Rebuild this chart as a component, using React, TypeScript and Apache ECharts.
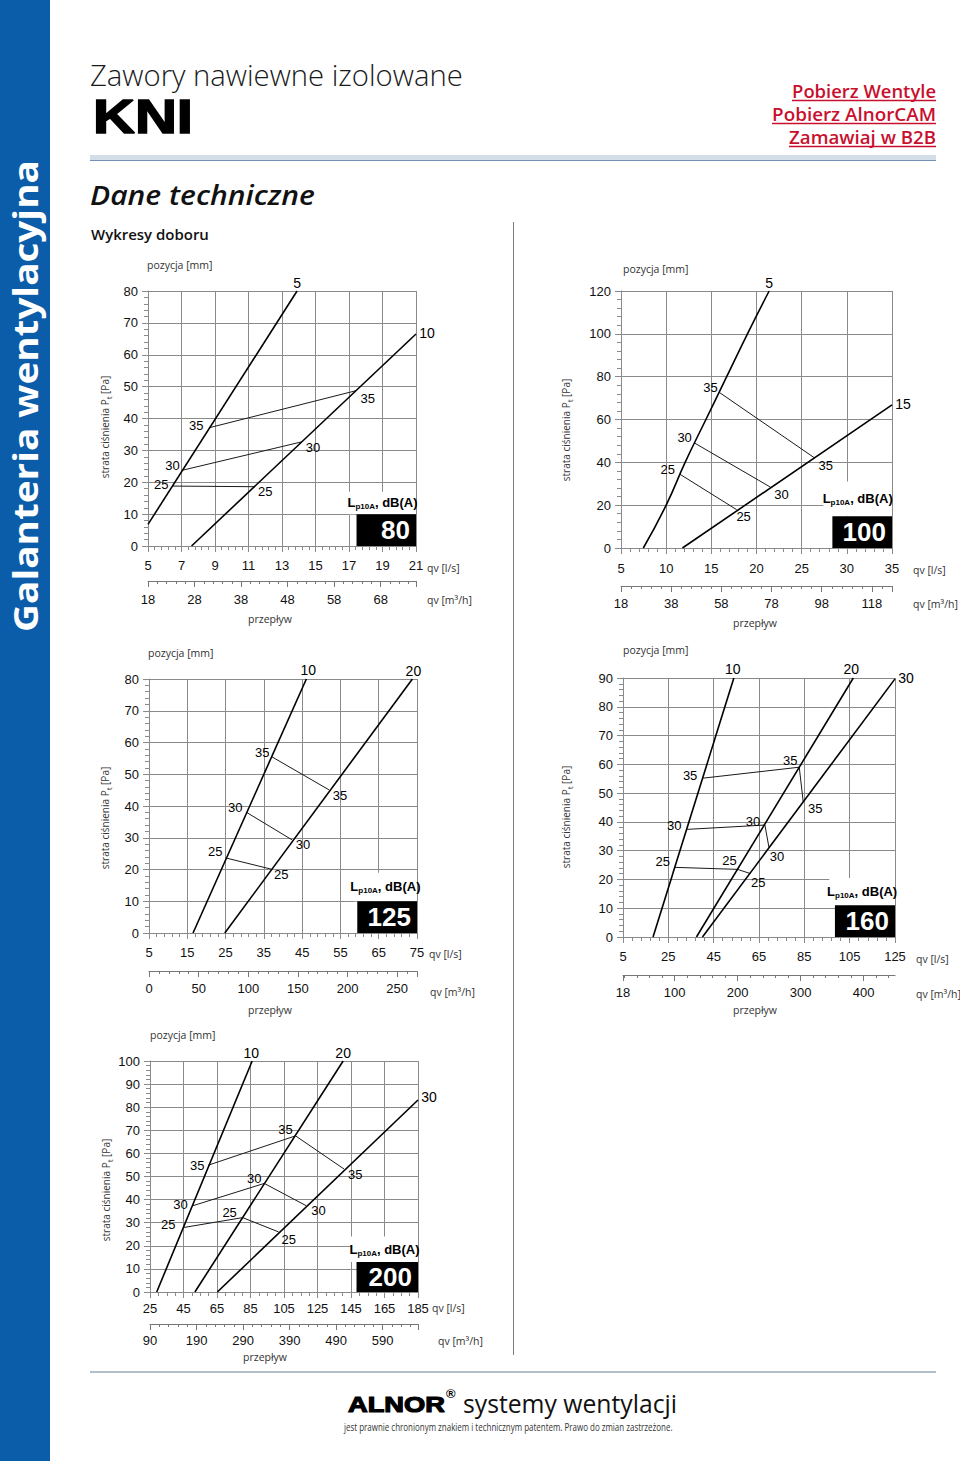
import React, { useEffect, useRef } from 'react';
import * as echarts from 'echarts';

// ================= DATA =================
// Chart 1 — KNI 80
const c1FlowLs = [5, 21];
const c1FlowLsStep = 2;
const c1FlowM3h = [18, 75.6];
const c1FlowM3hStep = 10;
const c1Pressure = [0, 80];
const c1PressureStep = 10;
const c1Pos5 = [[5, 6.8], [13.9, 80]];
const c1Pos10 = [[7.6, 0], [21, 66.5]];
const c1Noise25 = [[6.45, 18.8], [11.4, 18.6]];
const c1Noise30 = [[7.0, 23.7], [14.2, 32.7]];
const c1Noise35 = [[8.65, 37.1], [17.4, 48.7]];
const c1Box = [[17.45, 0], [21, 10]];
const c1Caption = [[17.0, 10], [21, 17]];

// Chart 2 — KNI 100
const c2FlowLs = [5, 35];
const c2FlowLsStep = 5;
const c2FlowM3h = [18, 126];
const c2FlowM3hStep = 20;
const c2Pressure = [0, 120];
const c2PressureStep = 20;
const c2Pos5 = [[7.47, 0], [10.0, 20], [12.1, 40], [14.4, 60], [16.7, 80], [19.0, 100], [21.4, 120]];
const c2Pos15 = [[11.8, 0], [35, 66.8]];
const c2Noise25 = [[11.5, 34.5], [17.8, 17.9]];
const c2Noise30 = [[13.15, 49.0], [21.55, 28.4]];
const c2Noise35 = [[15.9, 72.6], [26.45, 42.0]];
const c2Box = [[28.4, 0], [35, 14.8]];
const c2Caption = [[27.4, 14.8], [35, 31]];

// Chart 3 — KNI 125
const c3FlowLs = [5, 75];
const c3FlowLsStep = 10;
const c3FlowM3h = [0, 270];
const c3FlowM3hStep = 50;
const c3Pressure = [0, 80];
const c3PressureStep = 10;
const c3Pos10 = [[16.5, 0], [46.1, 80]];
const c3Pos20 = [[24.8, 0], [73.8, 80]];
const c3Noise25 = [[25.2, 23.6], [36.95, 20.1]];
const c3Noise30 = [[30.4, 38.05], [42.35, 29.35]];
const c3Noise35 = [[36.95, 55.6], [52.0, 45.1]];
const c3Box = [[59.4, 0], [75, 10]];
const c3Caption = [[58.5, 10], [75, 19]];

// Chart 4 — KNI 160
const c4FlowLs = [5, 125];
const c4FlowLsStep = 20;
const c4FlowM3h = [18, 450];
const c4M3hLabels = [18, 100, 200, 300, 400];
const c4M3hMinor = [20, 40, 60, 80, 120, 140, 160, 180, 220, 240, 260, 280, 320, 340, 360, 380, 420, 440];
const c4Pressure = [0, 90];
const c4PressureStep = 10;
const c4Pos10 = [[18.25, 0], [53.9, 90]];
const c4Pos20 = [[37.4, 0], [106.6, 90]];
const c4Pos30 = [[40.05, 0], [125, 89.7]];
const c4Noise25 = [[27.8, 24.2], [55.5, 23.5], [61.1, 22.07]];
const c4Noise30 = [[33.3, 37.4], [67.6, 38.9], [69.4, 31.1]];
const c4Noise35 = [[40.35, 55.2], [82.76, 59.0], [84.5, 47.0]];
const c4Box = [[98.5, 0], [125, 11]];
const c4Caption = [[96.0, 11], [125, 20.5]];

// Chart 5 — KNI 200
const c5FlowLs = [25, 185];
const c5FlowLsStep = 20;
const c5FlowM3h = [90, 666];
const c5FlowM3hStep = 100;
const c5Pressure = [0, 100];
const c5PressureStep = 10;
const c5Pos10 = [[29.0, 0], [86.0, 100]];
const c5Pos20 = [[51.8, 0], [140.3, 100]];
const c5Pos30 = [[65.2, 0], [185, 83.1]];
const c5Noise25 = [[44.9, 27.9], [80.3, 32.2], [101.8, 26.0]];
const c5Noise30 = [[50.4, 37.3], [93.2, 47.0], [118.4, 37.3]];
const c5Noise35 = [[59.8, 54.9], [111.9, 67.6], [140.9, 53.2]];
const c5Box = [[148.3, 0], [185, 13]];
const c5Caption = [[145, 13], [185, 24]];

// ================= STYLE / LAYOUT =================
const FONT_NUM = "'Liberation Sans', Arial, sans-serif";
const FONT_TXT = "'Open Sans', 'Noto Sans', sans-serif";
const GRID_C = '#8a8a8a';
const BLUE = '#0b5ca9';
const RED = '#c8102e';

type Pt = number[];
interface Spec {
  grid: { left: number; top: number; width: number; height: number };
  ls: number[]; lsStep: number; lsMinor: number;
  pa: number[]; paStep: number;
  m3h: number[]; m3hStep?: number; m3hLabels?: number[]; m3hMinorVals?: number[];
  m3hOffset: number; lsMargin: number; m3hMargin: number;
  positions: { data: Pt[]; smooth?: boolean }[];
  noise: Pt[][];
  labels: [string, Pt, number[], number][];
  box: Pt[]; caption: Pt[]; size: string;
  txt: { poz: number[]; ls: number[]; m3h: number[]; prz: number[]; yname: number[] };
}

const specs: Spec[] = [
  {
    grid: { left: 148, top: 291, width: 268, height: 255 },
    ls: c1FlowLs, lsStep: c1FlowLsStep, lsMinor: 5,
    pa: c1Pressure, paStep: c1PressureStep,
    m3h: c1FlowM3h, m3hStep: c1FlowM3hStep, m3hOffset: 35, lsMargin: 13, m3hMargin: 12,
    positions: [{ data: c1Pos5 }, { data: c1Pos10 }],
    noise: [c1Noise25, c1Noise30, c1Noise35],
    labels: [
      ['5', c1Pos5[1], [0, -8], 14], ['10', c1Pos10[1], [11, -1], 14],
      ['35', c1Noise35[0], [-13, -2], 13], ['35', c1Noise35[1], [12, 8], 13],
      ['30', c1Noise30[0], [-9, -5], 13], ['30', c1Noise30[1], [11, 6], 13],
      ['25', c1Noise25[0], [-11, -2], 13], ['25', c1Noise25[1], [10, 5], 13],
    ],
    box: c1Box, caption: c1Caption, size: '80',
    txt: { poz: [147, 265], ls: [427, 568], m3h: [427, 600], prz: [270, 619], yname: [105, 427] },
  },
  {
    grid: { left: 621, top: 291, width: 271, height: 257 },
    ls: c2FlowLs, lsStep: c2FlowLsStep, lsMinor: 5,
    pa: c2Pressure, paStep: c2PressureStep,
    m3h: c2FlowM3h, m3hStep: c2FlowM3hStep, m3hOffset: 38, lsMargin: 14, m3hMargin: 11,
    positions: [{ data: c2Pos5, smooth: true }, { data: c2Pos15 }],
    noise: [c2Noise25, c2Noise30, c2Noise35],
    labels: [
      ['5', c2Pos5[c2Pos5.length - 1], [0, -8], 14], ['15', c2Pos15[1], [11, -1], 14],
      ['35', c2Noise35[0], [-9, -5], 13], ['35', c2Noise35[1], [11, 7], 13],
      ['30', c2Noise30[0], [-10, -6], 13], ['30', c2Noise30[1], [11, 7], 13],
      ['25', c2Noise25[0], [-12, -5], 13], ['25', c2Noise25[1], [7, 7], 13],
    ],
    box: c2Box, caption: c2Caption, size: '100',
    txt: { poz: [623, 269], ls: [913, 570], m3h: [913, 604], prz: [755, 623], yname: [566, 430] },
  },
  {
    grid: { left: 149, top: 679, width: 268, height: 254 },
    ls: c3FlowLs, lsStep: c3FlowLsStep, lsMinor: 5,
    pa: c3Pressure, paStep: c3PressureStep,
    m3h: c3FlowM3h, m3hStep: c3FlowM3hStep, m3hOffset: 38, lsMargin: 13, m3hMargin: 11,
    positions: [{ data: c3Pos10 }, { data: c3Pos20 }],
    noise: [c3Noise25, c3Noise30, c3Noise35],
    labels: [
      ['10', c3Pos10[1], [2, -9], 14], ['20', c3Pos20[1], [1, -8], 14],
      ['35', c3Noise35[0], [-9, -4], 13], ['35', c3Noise35[1], [11, 6], 13],
      ['30', c3Noise30[0], [-11, -5], 13], ['30', c3Noise30[1], [11, 5], 13],
      ['25', c3Noise25[0], [-11, -7], 13], ['25', c3Noise25[1], [10, 5], 13],
    ],
    box: c3Box, caption: c3Caption, size: '125',
    txt: { poz: [148, 653], ls: [429, 954], m3h: [430, 992], prz: [270, 1010], yname: [105, 818] },
  },
  {
    grid: { left: 623, top: 678, width: 272, height: 259 },
    ls: c4FlowLs, lsStep: c4FlowLsStep, lsMinor: 5,
    pa: c4Pressure, paStep: c4PressureStep,
    m3h: c4FlowM3h, m3hLabels: c4M3hLabels, m3hMinorVals: c4M3hMinor, m3hOffset: 38, lsMargin: 13, m3hMargin: 11,
    positions: [{ data: c4Pos10 }, { data: c4Pos20 }, { data: c4Pos30 }],
    noise: [c4Noise25, c4Noise30, c4Noise35],
    labels: [
      ['10', c4Pos10[1], [-1, -9], 14], ['20', c4Pos20[1], [-2, -9], 14], ['30', c4Pos30[1], [11, -1], 14],
      ['35', c4Noise35[0], [-13, -3], 13], ['35', c4Noise35[1], [-9, -7], 13], ['35', c4Noise35[2], [12, 7], 13],
      ['30', c4Noise30[0], [-13, -4], 13], ['30', c4Noise30[1], [-12, -4], 13], ['30', c4Noise30[2], [8, 9], 13],
      ['25', c4Noise25[0], [-12, -6], 13], ['25', c4Noise25[1], [-8, -9], 13], ['25', c4Noise25[2], [8, 9], 13],
    ],
    box: c4Box, caption: c4Caption, size: '160',
    txt: { poz: [623, 650], ls: [916, 959], m3h: [916, 994], prz: [755, 1010], yname: [566, 817] },
  },
  {
    grid: { left: 150, top: 1061, width: 268, height: 231 },
    ls: c5FlowLs, lsStep: c5FlowLsStep, lsMinor: 4,
    pa: c5Pressure, paStep: c5PressureStep,
    m3h: c5FlowM3h, m3hStep: c5FlowM3hStep, m3hOffset: 32, lsMargin: 10, m3hMargin: 10,
    positions: [{ data: c5Pos10 }, { data: c5Pos20 }, { data: c5Pos30 }],
    noise: [c5Noise25, c5Noise30, c5Noise35],
    labels: [
      ['10', c5Pos10[1], [-1, -8], 14], ['20', c5Pos20[1], [0, -8], 14], ['30', c5Pos30[1], [11, -3], 14],
      ['35', c5Noise35[0], [-11, 0], 13], ['35', c5Noise35[1], [-10, -6], 13], ['35', c5Noise35[2], [11, 5], 13],
      ['30', c5Noise30[0], [-12, -1], 13], ['30', c5Noise30[1], [-10, -5], 13], ['30', c5Noise30[2], [12, 5], 13],
      ['25', c5Noise25[0], [-15, -3], 13], ['25', c5Noise25[1], [-13, -5], 13], ['25', c5Noise25[2], [10, 8], 13],
    ],
    box: c5Box, caption: c5Caption, size: '200',
    txt: { poz: [150, 1035], ls: [432, 1308], m3h: [438, 1341], prz: [265, 1357], yname: [106, 1190] },
  },
];

// ================= HELPERS =================
let measureCtx: CanvasRenderingContext2D | null = null;
function fitScale(text: string, font: string, target: number): number {
  if (!measureCtx) measureCtx = document.createElement('canvas').getContext('2d');
  if (!measureCtx) return 1;
  measureCtx.font = font;
  const w = measureCtx.measureText(text).width;
  return w > 0 ? target / w : 1;
}

function txt(x: number, y: number, text: string, o: any = {}) {
  const size = o.size ?? 11;
  const weight = o.weight ?? 'normal';
  const style = o.fontStyle ?? 'normal';
  const family = o.family ?? FONT_TXT;
  const el: any = {
    type: 'text', x, y, silent: true, z: o.z ?? 10,
    rotation: o.rotation ?? 0,
    style: {
      text, fill: o.fill ?? '#222', fontSize: size, fontWeight: weight, fontStyle: style,
      fontFamily: family, align: o.align ?? 'left', verticalAlign: o.va ?? 'middle',
      stroke: o.stroke, lineWidth: o.lineWidth ?? 0,
    },
  };
  if (o.target) el.scaleX = fitScale(text, `${style} ${weight} ${size}px ${family}`, o.target);
  return el;
}

function buildOption() {
  const grids: any[] = [];
  const xAxes: any[] = [];
  const yAxes: any[] = [];
  const series: any[] = [];
  const graphics: any[] = [];

  const numLabel = { fontSize: 13, fontFamily: FONT_NUM, color: '#111' };

  specs.forEach((s, i) => {
    grids.push({ ...s.grid, containLabel: false });
    const xi = xAxes.length;
    xAxes.push({
      gridIndex: i, type: 'value', position: 'bottom', min: s.ls[0], max: s.ls[1], interval: s.lsStep,
      axisLine: { show: true, onZero: false, lineStyle: { color: GRID_C } },
      axisTick: { show: true, inside: false, length: 6, lineStyle: { color: GRID_C } },
      minorTick: { show: true, splitNumber: s.lsMinor, length: 4, lineStyle: { color: GRID_C } },
      splitLine: { show: true, lineStyle: { color: GRID_C, width: 1 } },
      axisLabel: { ...numLabel, margin: s.lsMargin },
    });
    const m: any = {
      gridIndex: i, type: 'value', position: 'bottom', offset: s.m3hOffset, min: s.m3h[0], max: s.m3h[1],
      axisLine: { show: true, onZero: false, lineStyle: { color: '#777' } },
      axisTick: { show: true, length: 6, lineStyle: { color: '#777' } },
      splitLine: { show: false },
      axisLabel: { ...numLabel, margin: s.m3hMargin, showMaxLabel: false },
    };
    if (s.m3hStep) {
      m.interval = s.m3hStep;
      m.minorTick = { show: true, splitNumber: 5, length: 3, lineStyle: { color: '#777' } };
    } else {
      m.axisLabel.customValues = s.m3hLabels;
      m.axisTick.customValues = s.m3hLabels;
      m.axisLabel.showMaxLabel = true;
    }
    xAxes.push(m);
    if (s.m3hMinorVals) {
      xAxes.push({
        gridIndex: i, type: 'value', position: 'bottom', offset: s.m3hOffset, min: s.m3h[0], max: s.m3h[1],
        axisLine: { show: false, onZero: false },
        axisTick: { show: true, length: 3, customValues: s.m3hMinorVals, lineStyle: { color: '#777' } },
        splitLine: { show: false },
        axisLabel: { show: false },
      });
    }
    yAxes.push({
      gridIndex: i, type: 'value', min: s.pa[0], max: s.pa[1], interval: s.paStep,
      axisLine: { show: true, onZero: false, lineStyle: { color: GRID_C } },
      axisTick: { show: true, inside: false, length: 6, lineStyle: { color: GRID_C } },
      minorTick: { show: true, splitNumber: 5, length: 4, lineStyle: { color: GRID_C } },
      splitLine: { show: true, lineStyle: { color: GRID_C, width: 1 } },
      axisLabel: { ...numLabel, margin: 10 },
    });

    s.positions.forEach((p, k) => {
      const ser: any = {
        type: 'line', xAxisIndex: xi, yAxisIndex: i, data: p.data, symbol: 'none', smooth: !!p.smooth,
        silent: true, z: 4, lineStyle: { color: '#000', width: 1.6 },
      };
      if (k === 0) {
        ser.markArea = {
          silent: true,
          data: [
            [
              {
                coord: s.caption[0], itemStyle: { color: '#fff', opacity: 1 },
                label: {
                  show: true, position: 'inside', formatter: '{a|L}{b|p10A}{a|, dB(A)}',
                  rich: {
                    a: { fontSize: 13, fontWeight: 'bold', fontFamily: FONT_NUM, color: '#000', lineHeight: 16 },
                    b: { fontSize: 8, fontWeight: 'bold', fontFamily: FONT_NUM, color: '#000', verticalAlign: 'bottom' },
                  },
                },
              },
              { coord: s.caption[1] },
            ],
            [
              {
                coord: s.box[0], itemStyle: { color: '#000', opacity: 1 },
                label: {
                  show: true, position: 'insideRight', distance: 6, formatter: s.size, color: '#fff',
                  fontSize: 26, fontWeight: 900, fontFamily: FONT_NUM,
                },
              },
              { coord: s.box[1] },
            ],
          ],
        };
      }
      series.push(ser);
    });
    s.noise.forEach((d) => {
      series.push({
        type: 'line', xAxisIndex: xi, yAxisIndex: i, data: d, symbol: 'none', silent: true, z: 3,
        lineStyle: { color: '#1a1a1a', width: 1 },
      });
    });
    series.push({
      type: 'scatter', xAxisIndex: xi, yAxisIndex: i, silent: true, z: 6,
      symbolSize: 1, itemStyle: { color: 'rgba(255,255,255,0)' },
      labelLayout: { hideOverlap: false },
      data: s.labels.map(([t, p, off, fs]) => ({
        value: p,
        label: {
          show: true, position: [0.5 + off[0], 0.5 + off[1]], align: 'center', verticalAlign: 'middle',
          formatter: t, fontSize: fs, fontFamily: FONT_NUM,
          color: '#000', textBorderWidth: 0, opacity: 1,
        },
      })),
    });

    // axis texts
    const t = s.txt;
    graphics.push(txt(t.poz[0], t.poz[1], 'pozycja [mm]', { size: 10.5, fill: '#333' }));
    graphics.push(txt(t.ls[0], t.ls[1], 'qv [l/s]', { size: 10.5, fill: '#333' }));
    graphics.push(txt(t.m3h[0], t.m3h[1], 'qv [m³/h]', { size: 10.5, fill: '#333' }));
    graphics.push(txt(t.prz[0], t.prz[1], 'przepływ', { size: 10.5, fill: '#333', align: 'center' }));
    graphics.push({
      type: 'text', x: t.yname[0], y: t.yname[1], rotation: Math.PI / 2, silent: true, z: 10,
      style: {
        text: '{a|strata ciśnienia P}{b|t}{a| [Pa]}', align: 'center', verticalAlign: 'middle',
        rich: {
          a: { fontSize: 10, fontFamily: FONT_TXT, fill: '#333', lineHeight: 14 },
          b: { fontSize: 8, fontFamily: FONT_TXT, fill: '#333', verticalAlign: 'bottom' },
        },
      },
    });
  });

  // page decorations
  const deco: any[] = [
    { type: 'rect', shape: { x: 0, y: 0, width: 50, height: 1461 }, style: { fill: BLUE }, silent: true, z: 1 },
    txt(25, 396, 'Galanteria wentylacyjna', { size: 34, weight: 'bold', fill: '#fff', align: 'center', rotation: Math.PI / 2, target: 472 }),
    txt(90, 75, 'Zawory nawiewne izolowane', { size: 29, weight: 300, fill: '#1a1a1a', target: 373 }),
    txt(93, 116, 'KNI', { size: 48, weight: 900, family: FONT_NUM, fill: '#000', stroke: '#000', lineWidth: 1.6, target: 100 }),
    txt(936, 91, 'Pobierz Wentyle', { size: 18, weight: 600, fill: RED, align: 'right', target: 144 }),
    txt(936, 114, 'Pobierz AlnorCAM', { size: 18, weight: 600, fill: RED, align: 'right', target: 164 }),
    txt(936, 137, 'Zamawiaj w B2B', { size: 18, weight: 600, fill: RED, align: 'right', target: 147 }),
    { type: 'line', shape: { x1: 792, y1: 100.5, x2: 936, y2: 100.5 }, style: { stroke: RED, lineWidth: 1.3 }, silent: true },
    { type: 'line', shape: { x1: 772, y1: 123.5, x2: 936, y2: 123.5 }, style: { stroke: RED, lineWidth: 1.3 }, silent: true },
    { type: 'line', shape: { x1: 789, y1: 146.5, x2: 936, y2: 146.5 }, style: { stroke: RED, lineWidth: 1.3 }, silent: true },
    { type: 'rect', shape: { x: 90, y: 155, width: 846, height: 5 }, style: { fill: '#d3dee9' }, silent: true },
    { type: 'line', shape: { x1: 90, y1: 160.5, x2: 936, y2: 160.5 }, style: { stroke: '#6f92b6', lineWidth: 1 }, silent: true },
    txt(90, 194, 'Dane techniczne', { size: 27, weight: 600, fontStyle: 'italic', fill: '#111', target: 225 }),
    txt(91, 235, 'Wykresy doboru', { size: 14, weight: 600, fill: '#111', target: 118 }),
    { type: 'line', shape: { x1: 513.5, y1: 222, x2: 513.5, y2: 1355 }, style: { stroke: '#808080', lineWidth: 1 }, silent: true },
    { type: 'rect', shape: { x: 90, y: 1371, width: 846, height: 2 }, style: { fill: '#b3c0cc' }, silent: true },
    txt(348, 1404, 'ALNOR', { size: 23, weight: 900, family: FONT_NUM, fill: '#000', stroke: '#000', lineWidth: 1.2, target: 97 }),
    txt(446, 1393, '®', { size: 13, weight: 'bold', family: FONT_NUM, fill: '#000' }),
    txt(463, 1403, 'systemy wentylacji', { size: 26, weight: 'normal', fill: '#111', target: 214 }),
    txt(344, 1427, 'jest prawnie chronionym znakiem i technicznym patentem. Prawo do zmian zastrzeżone.', { size: 10, fill: '#333', target: 329 }),
  ];

  return {
    animation: false,
    backgroundColor: '#fff',
    grid: grids,
    xAxis: xAxes,
    yAxis: yAxes,
    series,
    graphic: { elements: [...deco, ...graphics] },
  };
}

export default function App() {
  const ref = useRef<HTMLDivElement>(null);
  useEffect(() => {
    if (!ref.current) return;
    const chart = echarts.init(ref.current, null, { renderer: 'svg' });
    chart.setOption(buildOption() as any);
    return () => chart.dispose();
  }, []);
  return <div ref={ref} style={{ position: 'absolute', left: 0, top: 0, width: 960, height: 1461 }} />;
}
